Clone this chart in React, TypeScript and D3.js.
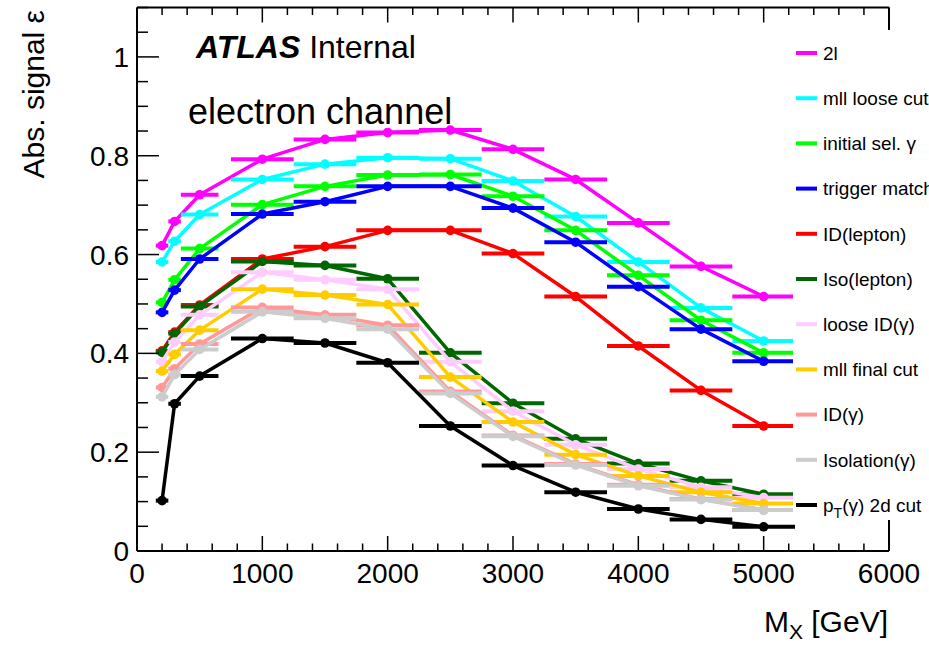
import React from "react";
import * as d3 from "d3";

// Signal mass points [GeV] and horizontal half-widths of the mass bins
const masses = [200, 300, 500, 1000, 1500, 2000, 2500, 3000, 3500, 4000, 4500, 5000];
const halfWidths = [50, 50, 150, 250, 250, 250, 250, 250, 250, 250, 250, 250];

// Cumulative absolute signal efficiency after each selection step
const eff2l = [0.618, 0.667, 0.721, 0.793, 0.833, 0.847, 0.852, 0.813, 0.752, 0.664, 0.576, 0.515];
const effMllLoose = [0.585, 0.627, 0.681, 0.752, 0.783, 0.796, 0.794, 0.749, 0.677, 0.585, 0.492, 0.425];
const effInitialGamma = [0.503, 0.549, 0.612, 0.701, 0.738, 0.761, 0.762, 0.718, 0.649, 0.558, 0.467, 0.401];
const effTrigger = [0.483, 0.528, 0.591, 0.682, 0.707, 0.738, 0.738, 0.694, 0.625, 0.535, 0.449, 0.384];
const effIdLepton = [0.405, 0.443, 0.498, 0.591, 0.616, 0.649, 0.649, 0.602, 0.515, 0.415, 0.325, 0.253];
const effIsoLepton = [0.402, 0.440, 0.495, 0.586, 0.578, 0.551, 0.401, 0.299, 0.227, 0.177, 0.142, 0.115];
const effLooseIdGamma = [0.383, 0.423, 0.478, 0.564, 0.549, 0.530, 0.383, 0.283, 0.215, 0.166, 0.129, 0.108];
const effMllFinal = [0.364, 0.398, 0.447, 0.530, 0.518, 0.499, 0.352, 0.261, 0.195, 0.152, 0.119, 0.096];
const effIdGamma = [0.331, 0.369, 0.419, 0.493, 0.478, 0.457, 0.323, 0.234, 0.176, 0.134, 0.105, 0.083];
const effIsoGamma = [0.312, 0.357, 0.408, 0.484, 0.471, 0.449, 0.319, 0.232, 0.174, 0.132, 0.104, 0.083];
const effPtGamma = [0.102, 0.298, 0.354, 0.430, 0.421, 0.381, 0.253, 0.173, 0.119, 0.085, 0.064, 0.049];

const seriesLabels = [
  "2l",
  "mll loose cut",
  "initial sel. γ",
  "trigger match",
  "ID(lepton)",
  "Iso(lepton)",
  "loose ID(γ)",
  "mll final cut",
  "ID(γ)",
  "Isolation(γ)",
  "pT(γ) 2d cut",
];
const seriesColors = [
  "#ff00ff",
  "#00ffff",
  "#00ff00",
  "#0000ff",
  "#ff0000",
  "#006600",
  "#ffccff",
  "#ffcc00",
  "#ff9999",
  "#cccccc",
  "#000000",
];
const seriesValues = [
  eff2l,
  effMllLoose,
  effInitialGamma,
  effTrigger,
  effIdLepton,
  effIsoLepton,
  effLooseIdGamma,
  effMllFinal,
  effIdGamma,
  effIsoGamma,
  effPtGamma,
];

const xTickLabels = ["0", "1000", "2000", "3000", "4000", "5000", "6000"];
const yTickLabels = ["0", "0.2", "0.4", "0.6", "0.8", "1"];

const FONT = "'Liberation Sans', Arial, Helvetica, sans-serif";

export default function App() {
  const W = 929;
  const H = 646;
  const left = 137;
  const right = 889;
  const top = 7.5;
  const bottom = 551;

  const x = d3.scaleLinear().domain([0, 6000]).range([left, right]);
  const y = d3.scaleLinear().domain([0, 1.1]).range([bottom, top]);

  const line = d3
    .line<[number, number]>()
    .x((d) => x(d[0]))
    .y((d) => y(d[1]));

  const xMinor = d3.range(0, 6001, 200);
  const yMinor = d3.range(0, 1.1001, 0.05);

  const legendY0 = 53;
  const legendStep = 45.2;

  return (
    <svg
      width={W}
      height={H}
      viewBox={`0 0 ${W} ${H}`}
      style={{ position: "absolute", left: 0, top: 0, background: "#fff" }}
      fontFamily={FONT}
    >
      <rect x={0} y={0} width={W} height={H} fill="#fff" />

      {/* series: connecting lines, bin-width bars and markers */}
      {seriesValues.map((vals, si) => {
        const pts = masses.map((m, i) => [m, vals[i]] as [number, number]);
        const c = seriesColors[si];
        return (
          <g key={si}>
            <path d={line(pts) || ""} fill="none" stroke={c} strokeWidth={3.5} strokeLinejoin="round" />
            {pts.map(([m, v], i) => (
              <line
                key={"e" + i}
                x1={x(m - halfWidths[i])}
                x2={x(m + halfWidths[i])}
                y1={y(v)}
                y2={y(v)}
                stroke={c}
                strokeWidth={4}
              />
            ))}
            {pts.map(([m, v], i) => (
              <circle key={"p" + i} cx={x(m)} cy={y(v)} r={4.8} fill={c} />
            ))}
          </g>
        );
      })}

      {/* frame */}
      <g stroke="#000" fill="none">
        <line x1={left} x2={right} y1={bottom} y2={bottom} strokeWidth={2} />
        <line x1={left} x2={right} y1={top} y2={top} strokeWidth={2} />
        <line x1={left} x2={left} y1={top} y2={bottom} strokeWidth={2} />
        <line x1={right} x2={right} y1={top} y2={bottom} strokeWidth={2} />
        {xMinor.map((v) => {
          const major = v % 1000 === 0;
          const len = major ? 15 : 7.5;
          return (
            <g key={"xt" + v}>
              <line x1={x(v)} x2={x(v)} y1={bottom} y2={bottom - len} strokeWidth={1.5} />
              <line x1={x(v)} x2={x(v)} y1={top} y2={top + len} strokeWidth={1.5} />
            </g>
          );
        })}
        {yMinor.map((v, i) => {
          const major = i % 4 === 0;
          const len = major ? 22 : 11;
          return <line key={"yt" + i} x1={left} x2={left + len} y1={y(v)} y2={y(v)} strokeWidth={1.5} />;
        })}
      </g>

      {/* tick labels */}
      <g fontSize={28} fill="#000">
        {xTickLabels.map((t) => (
          <text key={"xl" + t} x={x(+t)} y={583} textAnchor="middle">
            {t}
          </text>
        ))}
        {yTickLabels.map((t) => (
          <text key={"yl" + t} x={129} y={y(+t)} dy="0.36em" textAnchor="end">
            {t}
          </text>
        ))}
      </g>

      {/* axis titles */}
      <text x={888} y={632} fontSize={30} textAnchor="end" fill="#000">
        M<tspan fontSize={21} dy={7}>X</tspan>
        <tspan dy={-7}> [GeV]</tspan>
      </text>
      <text
        transform="translate(44, 10) rotate(-90)"
        fontSize={30}
        textAnchor="end"
        fill="#000"
      >
        Abs. signal ε
      </text>

      {/* labels */}
      <text x={196} y={58} fontSize={32} fill="#000">
        <tspan fontWeight="bold" fontStyle="italic">ATLAS</tspan>
        <tspan> Internal</tspan>
      </text>
      <text x={188} y={124} fontSize={36} fill="#000">
        electron channel
      </text>

      {/* legend */}
      <rect x={793} y={30} width={W - 793} height={490} fill="#fff" />
      {seriesLabels.map((lab, i) => {
        const ly = legendY0 + i * legendStep;
        return (
          <g key={"lg" + i}>
            <line x1={796} x2={817} y1={ly} y2={ly} stroke={seriesColors[i]} strokeWidth={4} />
            {lab.startsWith("pT") ? (
              <text x={823} y={ly} dy="0.36em" fontSize={19} fill="#000">
                p<tspan fontSize={14} dy={6}>T</tspan>
                <tspan dy={-6}>(γ) 2d cut</tspan>
              </text>
            ) : (
              <text x={823} y={ly} dy="0.36em" fontSize={19} fill="#000">
                {lab}
              </text>
            )}
          </g>
        );
      })}
    </svg>
  );
}
